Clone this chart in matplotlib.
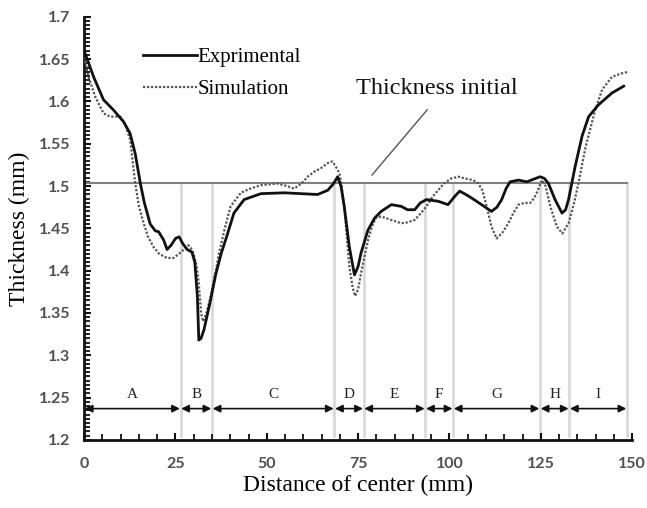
import matplotlib
matplotlib.use("Agg")
import matplotlib.pyplot as plt
from matplotlib.ticker import MultipleLocator

# ---- data ----
exp_x = [0, 2.6, 5.3, 8, 10.8, 12.6, 14, 15.4, 16.5, 18.1, 19.5, 20.4, 21.8, 22.7,
         23.8, 25.0, 26.0, 27.0, 28.2, 29.5, 30.3, 31.0, 31.4, 32.0, 32.8, 34.6, 36.0,
         37.5, 39, 41, 43.8, 48.4, 54.8, 59.3, 63.9, 66.7, 68.3, 69.4, 70.3, 71.2, 72.6,
         74, 75, 75.8, 77.7, 79.5, 81.3, 84.1, 86.8, 88.5, 90.5, 92.0, 93.7, 96.9, 99.6,
         101.5, 102.8, 104.5, 106, 108.8, 111.5, 113, 114.3, 115.5, 116.6, 118.9, 121.2,
         123, 124.8, 126, 127.1, 128.9, 130.8, 131.8, 132.6, 134.4, 136.3, 138.1, 140.8,
         144.5, 147.7]
exp_y = [1.660, 1.629, 1.602, 1.590, 1.576, 1.562, 1.538, 1.503, 1.480,
         1.455, 1.447, 1.446, 1.436, 1.425, 1.430, 1.438, 1.440, 1.432, 1.425, 1.422,
         1.410, 1.370, 1.318, 1.320, 1.330, 1.365, 1.395, 1.420, 1.440, 1.468, 1.484,
         1.491, 1.492, 1.491, 1.490, 1.495, 1.503, 1.511, 1.500, 1.476, 1.428, 1.395,
         1.405, 1.421, 1.448, 1.462, 1.470, 1.478, 1.476, 1.472, 1.472, 1.480, 1.484,
         1.482, 1.478, 1.488, 1.494, 1.490, 1.486, 1.478, 1.470, 1.475, 1.484, 1.497,
         1.505, 1.507, 1.505, 1.508, 1.511, 1.509, 1.503, 1.484, 1.468, 1.472, 1.484,
         1.523, 1.559, 1.582, 1.596, 1.610, 1.618]

sim_x = [0, 1.2, 3.0, 5.3, 7.1, 9.9, 11.3, 12.6, 14, 15, 16.3, 17.5, 19,
         20.5, 22.7, 24.5, 26, 27.3, 28.5, 29.1, 30, 30.8, 31.4, 32.0, 32.6, 33.5, 34.6,
         36.0, 36.9, 38.5, 40.1, 42.9, 45.5, 48.4, 52.9, 55.5, 57.5, 59.5, 61.2, 63,
         64.8, 67, 68, 69.0, 69.9, 70.5, 71.2, 72.6, 73.5, 74.2, 75, 75.8, 77.7, 79, 80,
         81.3, 84, 86.8, 88.5, 90.5, 92.2, 93.7, 95.5, 96.9, 98.5, 100.5, 102.5, 104.2,
         106.5, 107.9, 109, 110.2, 111.5, 112.9, 114.5, 116.1, 117.5, 118.9, 120.5,
         122.1, 123.2, 123.9, 125.3, 126.3, 127.6, 129.4, 130.9, 132.6, 134, 135.3,
         137.2, 139.9, 141.8, 144.5, 147, 149]
sim_y = [1.652, 1.629, 1.606, 1.586, 1.582, 1.582, 1.572, 1.555, 1.503,
         1.476, 1.456, 1.440, 1.428, 1.420, 1.415, 1.415, 1.420, 1.425, 1.430,
         1.428, 1.420, 1.405, 1.385, 1.350, 1.340, 1.350, 1.369, 1.398, 1.420, 1.450,
         1.476, 1.492, 1.497, 1.501, 1.503, 1.500, 1.497, 1.503, 1.511, 1.517, 1.521,
         1.528, 1.529, 1.522, 1.515, 1.500, 1.476, 1.405, 1.380, 1.370, 1.378, 1.397,
         1.436, 1.455, 1.463, 1.464, 1.460, 1.456, 1.457, 1.460, 1.468, 1.476, 1.488,
         1.495, 1.503, 1.509, 1.511, 1.509, 1.507, 1.503, 1.495, 1.476, 1.452, 1.438,
         1.445, 1.456, 1.468, 1.478, 1.480, 1.480, 1.486, 1.492, 1.507, 1.500, 1.476,
         1.452, 1.444, 1.456, 1.478, 1.503, 1.545, 1.590, 1.614, 1.629, 1.633, 1.635]

initial_thickness = 1.504
region_bounds = [0, 26.4, 35, 68.5, 76.5, 93.4, 101, 124.8, 132.8, 148.6]
region_labels = ["A", "B", "C", "D", "E", "F", "G", "H", "I"]
x_ticks = [0, 25, 50, 75, 100, 125, 150]
y_ticks = [1.2, 1.25, 1.3, 1.35, 1.4, 1.45, 1.5, 1.55, 1.6, 1.65, 1.7]
y_tick_labels = ["1.2", "1.25", "1.3", "1.35", "1.4", "1.45", "1.5", "1.55", "1.6", "1.65", "1.7"]

serif = "Liberation Serif"

fig = plt.figure(figsize=(6.47, 5.08), dpi=100)
ax = fig.add_axes([0.130, 0.134, 0.847, 0.833])

ax.set_xlim(0, 150)
ax.set_ylim(1.2, 1.7)

# region boundary lines
for xb in region_bounds[1:]:
    ax.plot([xb, xb], [1.205, initial_thickness], color="#d6d6d6", lw=1.8, zorder=1)
# initial thickness line
ax.plot([0, region_bounds[-1]], [initial_thickness, initial_thickness],
        color="#808080", lw=1.5, zorder=2)

ax.plot(sim_x, sim_y, color="#555555", lw=1.6, linestyle=(0, (1, 0.8)), zorder=3,
        label="Simulation")
ax.plot(exp_x, exp_y, color="#111111", lw=2.0, zorder=4, label="Exprimental")

# region arrows and labels
for i, lab in enumerate(region_labels):
    x0, x1 = region_bounds[i], region_bounds[i + 1]
    ax.annotate("", xy=(x1, 1.237), xytext=(x0, 1.237),
                arrowprops=dict(arrowstyle="<|-|>", color="#111111", lw=1.2,
                                mutation_scale=11, shrinkA=0.5, shrinkB=0.5))
    ax.text((x0 + x1) / 2, 1.254, lab, ha="center", va="center",
            fontsize=11, family=serif, color="#222222")

# thickness initial annotation
ax.plot([78.8, 93.9], [1.513, 1.59], color="#555555", lw=1.0)
ax.text(96.6, 1.615, "Thickness initial", ha="center", va="center",
        fontsize=17.5, family=serif, color="#111111")

# legend
handles, labels = ax.get_legend_handles_labels()
leg = ax.legend(handles[::-1], labels[::-1], loc="upper left",
                bbox_to_anchor=(0.108, 0.928), frameon=False, handlelength=2.6,
                handletextpad=0.0, labelspacing=0.6, borderpad=0, borderaxespad=0,
                prop={"family": serif, "size": 15})

# spines
for s in ["top", "right"]:
    ax.spines[s].set_visible(False)
for s in ["left", "bottom"]:
    ax.spines[s].set_linewidth(2.0)
    ax.spines[s].set_color("#111111")

ax.set_xticks(x_ticks)
ax.set_yticks(y_ticks)
ax.set_yticklabels(y_tick_labels)
ax.xaxis.set_minor_locator(MultipleLocator(5))
ax.yaxis.set_minor_locator(MultipleLocator(0.005))
ax.tick_params(axis="both", which="major", direction="in", length=5, width=1.5,
               color="#111111")
ax.tick_params(axis="both", which="minor", direction="in", length=4, width=1.3,
               color="#111111")
ax.tick_params(axis="y", which="major", pad=10)
ax.tick_params(axis="x", which="major", pad=12)
for lbl in ax.get_xticklabels() + ax.get_yticklabels():
    lbl.set_family("Lato")
    lbl.set_weight("bold")
    lbl.set_fontsize(11.5)
    lbl.set_color("#505050")

ax.set_xlabel("Distance of center (mm)", family=serif, fontsize=17, labelpad=3)
ax.set_ylabel("Thickness (mm)", family=serif, fontsize=17, labelpad=6)

fig.savefig("out.png", dpi=100)
